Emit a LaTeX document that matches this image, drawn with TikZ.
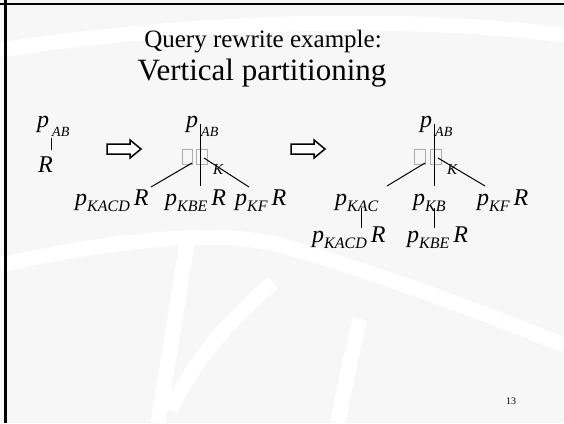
\documentclass[tikz,border=0pt]{standalone}
\usepackage{fontspec}
\setmainfont{Liberation Serif}
\usetikzlibrary{calc}

\newcommand{\proj}[1]{\textit{p}\raisebox{-6pt}{\fontsize{16}{16}\selectfont\textit{#1}}}
\newcommand{\projtop}[1]{\textit{p}\hspace{3pt}\raisebox{-9pt}{\fontsize{14}{14}\selectfont\textit{#1}}}
\newcommand{\blockarrow}[2]{\draw[bigarrow] (#1,#2) -- ++(0,-5) -- ++(23,0) -- ++(0,-4) -- ++(11,9) -- ++(-11,9) -- ++(0,-4) -- ++(-23,0) -- cycle;}

\begin{document}
\begin{tikzpicture}[x=1pt,y=-1pt,
  math/.style={font=\fontsize{24}{26}\selectfont\itshape,inner sep=0pt,anchor=base west},
  subk/.style={font=\fontsize{15}{15}\selectfont\itshape,inner sep=0pt,anchor=base west},
  edge/.style={line width=1pt},
  glyph/.style={draw=gray!65,line width=0.9pt},
  bigarrow/.style={draw,line width=1.5pt,fill=white,line join=miter},
  swirl/.style={white,line width=15pt}]
\useasboundingbox (0,0) rectangle (564,423);
% slide background
\fill[gray!6] (0,0) rectangle (564,423);
\draw[swirl] (0,50) .. controls (200,20) and (400,15) .. (564,35);
\draw[swirl] (0,265) .. controls (120,238) and (230,228) .. (290,248) .. controls (400,280) and (500,320) .. (564,345);
\draw[swirl] (187,243) .. controls (175,320) and (165,380) .. (158,423);
\draw[swirl] (273,283) .. controls (240,310) and (200,350) .. (170,410);
\draw[swirl] (360,319) .. controls (350,360) and (342,400) .. (338,423);
\draw[line width=2.5pt] (0,4) -- (564,4);
\draw[line width=3pt] (5.5,0) -- (5.5,423);

% title
\node[font=\fontsize{25}{28}\selectfont,anchor=base] (title) at (263,47) {Query rewrite example:};
\node[font=\fontsize{31}{36}\selectfont,anchor=base] (subtitle) at (262,80) {Vertical partitioning};

% original query
\node[math] (pl) at (37,127) {\projtop{AB}};
\node[math] (rl) at (38,172) {R};
\draw[edge] ($(pl.base west)+(14,11)$) -- ($(rl.base west)+(13,-22)$);

\blockarrow{107}{149}

% first rewrite
\node[math] (pm) at (186,127) {\projtop{AB}};
\coordinate (jm) at (200,157);
\draw[glyph] ($(jm)+(-18,-8)$) rectangle ++(10,15);
\draw[glyph] ($(jm)+(-4,-8)$) rectangle ++(11,15);
\node[subk] (km) at ($(jm)+(13,17)$) {K};
\node[math] (c1) at (75,205) {\proj{KACD}\,R};
\node[math] (c2) at (165,205) {\proj{KBE}\,R};
\node[math] (c3) at (235,205) {\proj{KF}\,R};
\draw[edge] ($(pm.base west)+(14,-3)$) -- ($(jm)+(0,29)$);
\draw[edge] ($(jm)+(-8,6)$) -- ($(c1.base west)+(76,-18)$);
\draw[edge] ($(jm)+(4,1)$) -- ($(c3.base west)+(14,-18)$);

\blockarrow{291}{149}

% second rewrite
\node[math] (pr) at (420,127) {\projtop{AB}};
\coordinate (jr) at (434,157);
\draw[glyph] ($(jr)+(-20,-8)$) rectangle ++(11,15);
\draw[glyph] ($(jr)+(-4,-8)$) rectangle ++(11,15);
\node[subk] (kr) at ($(jr)+(13,17)$) {K};
\node[math] (d1) at (335,205) {\proj{KAC}};
\node[math] (d2) at (413,205) {\proj{KB}};
\node[math] (d3) at (477,205) {\proj{KF}\,R};
\node[math] (e1) at (312,242) {\proj{KACD}\,R};
\node[math] (e2) at (407,242) {\proj{KBE}\,R};
\draw[edge] ($(pr.base west)+(14,-3)$) -- ($(jr)+(0,29)$);
\draw[edge] ($(jr)+(-9,6)$) -- ($(d1.base west)+(52,-19)$);
\draw[edge] ($(jr)+(4,1)$) -- ($(d3.base west)+(8,-19)$);
\draw[edge] ($(d1.base west)+(26,3)$) -- ($(e1.base west)+(49,-14)$);
\draw[edge] ($(d2.base west)+(21,3)$) -- ($(e2.base west)+(27,-14)$);

\node[font=\fontsize{10}{12}\selectfont] (pg) at (511,401) {13};
\end{tikzpicture}
\end{document}
